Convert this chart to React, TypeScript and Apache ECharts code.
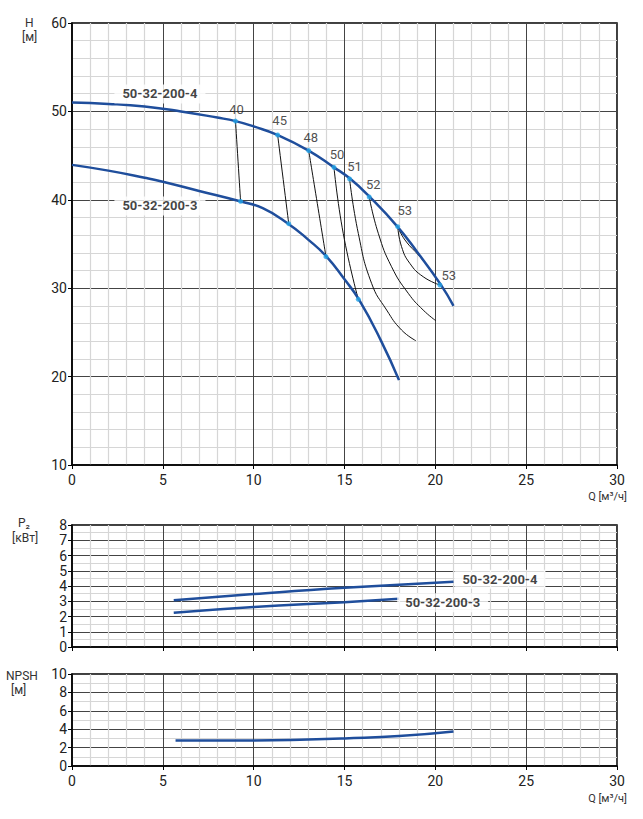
import * as echarts from 'echarts';
import { useEffect, useRef } from 'react';

// Q–H curves (Q in м³/ч, H in м)
const curve4Q = [0, 2, 4, 6, 8, 9.0, 10, 11.3, 13.0, 14.4, 15.3, 16.4, 17.9, 19, 20.3, 21];
const curve4H = [51.0, 50.85, 50.55, 50.0, 49.3, 48.9, 48.3, 47.35, 45.6, 43.7, 42.4, 40.3, 37.0, 34.1, 30.4, 28.0];
const curve3Q = [0, 2, 4, 5, 7, 9.3, 10.5, 11.9, 13, 14, 15, 15.8, 17, 18];
const curve3H = [43.95, 43.3, 42.5, 42.05, 41.0, 39.8, 39.05, 37.3, 35.5, 33.6, 31.0, 28.7, 24.1, 19.6];

// efficiency iso-lines
const eff40 = [[9.0, 48.9], [9.28, 39.83]];
const eff45 = [[11.32, 47.33], [11.93, 37.3]];
const eff48 = [[13.03, 45.56], [13.98, 33.57]];
const eff50 = [[14.42, 43.67], [14.93, 36.2], [15.76, 28.74]];
const eff51 = [[15.28, 42.35], [15.76, 36.2], [16.49, 30.55], [17.32, 27.53], [18.14, 25.27], [18.93, 24.06]];
const eff52 = [[16.36, 40.32], [16.86, 36.21], [17.59, 32.43], [18.51, 29.42], [19.33, 27.53], [20.03, 26.32]];
const eff53a = [[17.93, 36.96], [18.14, 34.7], [18.6, 32.8], [19.33, 31.3], [20.25, 30.36]];
const eff53b = [[17.93, 36.96], [18.33, 35.45], [19.15, 33.56], [19.88, 31.68], [20.25, 30.36]];

// efficiency marks on the curves
const effTopQ = [9.0, 11.32, 13.03, 14.42, 15.28, 16.36, 17.93, 20.25];
const effTopH = [48.9, 47.33, 45.56, 43.67, 42.35, 40.32, 36.96, 30.36];
const effLabels = ['40', '45', '48', '50', '51', '52', '53', '53'];
const effLowQ = [9.28, 11.93, 13.98, 15.76];
const effLowH = [39.83, 37.3, 33.57, 28.74];

// P2 (кВт)
const p4Q = [5.6, 10, 15, 21];
const p4P = [3.07, 3.47, 3.88, 4.28];
const p3Q = [5.6, 10, 15, 18];
const p3P = [2.24, 2.62, 2.94, 3.16];

// NPSH (м)
const npshQ = [5.7, 10, 13, 15, 18, 21];
const npshH = [2.77, 2.78, 2.88, 3.0, 3.25, 3.75];

const pumpNames = ['50-32-200-4', '50-32-200-3'];

const BLUE = '#1f4e9c';
const DOT = '#23a3e6';
const FONT = 'Roboto';

const zip = (xs: number[], ys: number[]) => xs.map((x, i) => [x, ys[i]]);

const xAxisBase = (gridIndex: number, showLabels: boolean) => ({
  type: 'value',
  gridIndex,
  min: 0,
  max: 30,
  interval: 5,
  axisLine: { show: true, onZero: false, lineStyle: { color: '#000', width: 1.5 } },
  axisTick: { show: true, length: 4, lineStyle: { color: '#000' } },
  axisLabel: { show: showLabels, fontFamily: FONT, fontSize: 14, color: '#222', margin: 8 },
  splitLine: { show: true, lineStyle: { color: '#444', width: 1 } },
  minorTick: { show: false, splitNumber: 5 },
  minorSplitLine: { show: true, lineStyle: { color: '#d6d6d6', width: 1.2 } },
});

const yAxisBase = (gridIndex: number, min: number, max: number, interval: number, minor: number) => ({
  type: 'value',
  gridIndex,
  min,
  max,
  interval,
  axisLine: { show: true, onZero: false, lineStyle: { color: '#000', width: 1.5 } },
  axisTick: { show: true, length: 4, lineStyle: { color: '#000' } },
  axisLabel: { fontFamily: FONT, fontSize: 14, color: '#222', margin: 5 },
  splitLine: { show: true, lineStyle: { color: '#444', width: 1 } },
  minorTick: { show: false, splitNumber: minor },
  minorSplitLine: { show: true, lineStyle: { color: '#d6d6d6', width: 1.2 } },
});

const labelNudge = [[1, 1], [2, -2], [2, 0], [3, 0], [5, 0], [4, 1], [7, -3], [9, 3]];

const effLine = (data: number[][]) => ({
  type: 'line',
  xAxisIndex: 0,
  yAxisIndex: 0,
  data,
  smooth: true,
  symbol: 'none',
  silent: true,
  lineStyle: { color: '#111', width: 1 },
  z: 3,
});

const pumpLine = (xi: number, data: number[][]) => ({
  type: 'line',
  xAxisIndex: xi,
  yAxisIndex: xi,
  data,
  smooth: true,
  symbol: 'none',
  lineStyle: { color: BLUE, width: 2.5 },
  z: 4,
});

const nameLabel = (xi: number, text: string, pos: number[], align: string) => ({
  type: 'scatter',
  xAxisIndex: xi,
  yAxisIndex: xi,
  symbolSize: 0,
  silent: true,
  z: 10,
  data: [{ value: pos }],
  label: {
    show: true,
    position: 'inside',
    align,
    formatter: text,
    fontFamily: FONT,
    fontWeight: 'bold',
    fontSize: 13,
    color: '#111',
    backgroundColor: '#fff',
    padding: [3, 8, 3, 8],
  },
});

export default function App() {
  const container = useRef<HTMLDivElement | null>(null);

  useEffect(() => {
    if (!container.current) return;
    const chart = echarts.init(container.current, null, { renderer: 'svg' });
    const axisTitle = { fontFamily: FONT, fontSize: 12, fill: '#333' };
    chart.setOption({
      animation: false,
      grid: [
        { left: 72, right: 26, top: 23, height: 442, show: true, borderColor: '#000', borderWidth: 1.5 },
        { left: 72, right: 26, top: 525, height: 122, show: true, borderColor: '#000', borderWidth: 1.5 },
        { left: 72, right: 26, top: 674, height: 92, show: true, borderColor: '#000', borderWidth: 1.5 },
      ],
      xAxis: [xAxisBase(0, true), xAxisBase(1, false), xAxisBase(2, true)],
      yAxis: [yAxisBase(0, 10, 60, 10, 5), yAxisBase(1, 0, 8, 1, 2), yAxisBase(2, 0, 10, 2, 2)],
      graphic: [
        { type: 'text', left: 25, top: 17, style: { ...axisTitle, text: 'H' } },
        { type: 'text', left: 22, top: 31, style: { ...axisTitle, text: '[м]' } },
        { type: 'text', right: 16, top: 491, style: { ...axisTitle, fontSize: 11, text: 'Q [м³/ч]' } },
        { type: 'text', left: 18, top: 517, style: { ...axisTitle, text: 'P₂' } },
        { type: 'text', left: 12, top: 532, style: { ...axisTitle, text: '[кВт]' } },
        { type: 'text', left: 6, top: 670, style: { ...axisTitle, text: 'NPSH' } },
        { type: 'text', left: 11, top: 684, style: { ...axisTitle, text: '[м]' } },
        { type: 'text', right: 16, top: 793, style: { ...axisTitle, fontSize: 11, text: 'Q [м³/ч]' } },
      ],
      series: [
        effLine(eff40),
        effLine(eff45),
        effLine(eff48),
        effLine(eff50),
        effLine(eff51),
        effLine(eff52),
        effLine(eff53a),
        effLine(eff53b),
        pumpLine(0, zip(curve4Q, curve4H)),
        pumpLine(0, zip(curve3Q, curve3H)),
        {
          type: 'scatter',
          xAxisIndex: 0,
          yAxisIndex: 0,
          symbolSize: 5,
          itemStyle: { color: DOT },
          z: 6,
          data: effTopQ.map((q, i) => ({
            value: [q, effTopH[i]],
            label: {
              show: true,
              position: 'top',
              distance: 4,
              offset: labelNudge[i],
              formatter: effLabels[i],
              fontFamily: FONT,
              fontSize: 13,
              color: '#222',
            },
          })),
        },
        {
          type: 'scatter',
          xAxisIndex: 0,
          yAxisIndex: 0,
          symbolSize: 5,
          itemStyle: { color: DOT },
          z: 6,
          data: zip(effLowQ, effLowH),
        },
        nameLabel(0, pumpNames[0], [4.84, 51.97], 'center'),
        nameLabel(0, pumpNames[1], [4.84, 39.3], 'center'),
        pumpLine(1, zip(p4Q, p4P)),
        pumpLine(1, zip(p3Q, p3P)),
        nameLabel(1, pumpNames[0], [21.05, 4.45], 'left'),
        nameLabel(1, pumpNames[1], [17.9, 2.9], 'left'),
        pumpLine(2, zip(npshQ, npshH)),
      ],
    } as echarts.EChartsOption);
    return () => {
      chart.dispose();
    };
  }, []);

  return (
    <div
      ref={container}
      style={{ position: 'fixed', left: 0, top: 0, width: 643, height: 819, background: '#fff' }}
    />
  );
}
